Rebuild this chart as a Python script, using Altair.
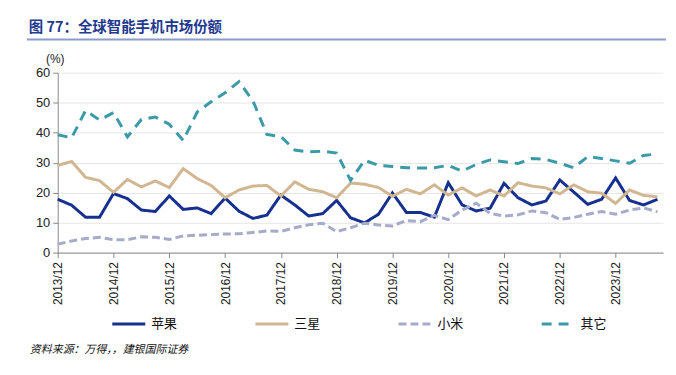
import altair as alt
import pandas as pd

series_names = ["苹果", "三星", "小米", "其它"]
colors = ["#15308E", "#D1B791", "#A7ABCA", "#3A9AA7"]
dashes = [[1, 0], [1, 0], [8, 4], [10, 7]]

# quarterly, 2013/12 .. 2024/09
apple = [17.8, 15.8, 11.8, 11.8, 19.7, 18.0, 14.2, 13.7, 18.9, 14.4, 14.9, 13.0,
         18.2, 13.8, 11.4, 12.5, 19.2, 15.9, 12.2, 13.0, 17.4, 11.6, 9.9, 12.8,
         19.9, 13.4, 13.4, 11.8, 23.3, 15.9, 13.9, 14.8, 23.1, 18.3, 15.9, 17.2,
         24.2, 20.2, 16.1, 17.8, 24.9, 17.4, 15.9, 17.8]
samsung = [29.1, 30.4, 25.1, 24.0, 20.1, 24.4, 21.9, 23.9, 21.7, 28.0, 24.7, 22.4,
           18.3, 20.9, 22.2, 22.4, 18.9, 23.6, 21.1, 20.3, 18.3, 23.2, 22.8, 21.7,
           18.8, 21.1, 19.6, 22.6, 19.2, 21.6, 18.9, 20.9, 18.9, 23.3, 22.2, 21.6,
           19.6, 22.6, 20.3, 19.8, 16.4, 20.9, 19.1, 18.6]
xiaomi = [2.8, 3.9, 4.7, 5.1, 4.3, 4.3, 5.3, 5.1, 4.4, 5.6, 5.8, 6.0,
          6.2, 6.3, 6.7, 7.2, 7.1, 8.3, 9.3, 9.8, 7.0, 8.3, 9.8, 9.2,
          8.9, 10.7, 10.3, 12.4, 11.0, 14.2, 16.5, 13.1, 12.2, 12.6, 13.9, 13.3,
          11.1, 11.7, 12.8, 13.7, 12.8, 14.2, 14.9, 13.6]
others = [39.3, 38.3, 47.4, 44.2, 46.7, 38.6, 44.4, 45.2, 42.8, 37.4, 46.9, 50.3,
          53.3, 57.0, 50.6, 39.4, 38.7, 34.2, 33.6, 33.8, 33.2, 24.1, 30.8, 29.1,
          28.7, 28.3, 28.2, 28.3, 29.1, 27.2, 29.4, 30.9, 30.3, 29.7, 31.4, 31.1,
          29.8, 28.3, 32.0, 31.4, 30.6, 29.8, 32.4, 32.9]

tick_idx = [0, 4, 8, 12, 16, 20, 24, 28, 32, 36, 40]
y_ticks = [0, 10, 20, 30, 40, 50, 60]

rows = []
for name, vals in zip(series_names, [apple, samsung, xiaomi, others]):
    for i, v in enumerate(vals):
        rows.append({"idx": i, "value": v, "series": name})
df = pd.DataFrame(rows)

num_font = "Liberation Sans"
cjk = "Noto Sans CJK SC"

lines = alt.Chart(df).mark_line(strokeWidth=3, strokeCap="butt").encode(
    x=alt.X("idx:Q", scale=alt.Scale(domain=[0, 43.4], nice=False, zero=False),
            axis=alt.Axis(values=tick_idx, labelExpr="toString(2013 + datum.value/4) + '/12'",
                          labelAngle=-90, labelAlign="right", labelBaseline="middle",
                          labelPadding=4, tickSize=5, grid=False, title=None,
                          labelFont=num_font, labelFontSize=12, labelColor="#222",
                          domainColor="#888", tickColor="#888")),
    y=alt.Y("value:Q", scale=alt.Scale(domain=[0, 60], nice=False),
            axis=alt.Axis(values=y_ticks, tickSize=5, labelPadding=3, grid=True,
                          gridColor="#E6E6E6", domainColor="#888", tickColor="#888",
                          labelFont=num_font, labelFontSize=13, labelColor="#222",
                          title="(%)", titleAngle=0, titleX=-3, titleY=-14,
                          titleAlign="center", titleBaseline="middle",
                          titleFont=num_font, titleFontSize=12, titleFontWeight="normal",
                          titleColor="#222")),
    color=alt.Color("series:N", scale=alt.Scale(domain=series_names, range=colors),
                    legend=alt.Legend(title=None, orient="none", legendX=53, legendY=234,
                                      direction="horizontal", columns=4, columnPadding=71,
                                      symbolType="stroke", symbolSize=1100, symbolStrokeWidth=3,
                                      labelFont=cjk, labelFontSize=13, labelColor="#111",
                                      labelOffset=4)),
    strokeDash=alt.StrokeDash("series:N", scale=alt.Scale(domain=series_names, range=dashes),
                              legend=None),
    detail="series:N",
)

one = pd.DataFrame({"a": [0]})
title = alt.Chart(one).mark_text(text="图 77：全球智能手机市场份额", align="left", baseline="middle",
                                 font=cjk, fontSize=14.5, fontWeight="bold", color="#1F3A8F").encode(
    x=alt.value(-29), y=alt.value(-45))
title_rule = alt.Chart(one).mark_rule(color="#8C9BCB", strokeWidth=2).encode(
    x=alt.value(-31), x2=alt.value(612), y=alt.value(-33.5))
footer = alt.Chart(one).mark_text(text="资料来源：万得，，建银国际证券", align="left", baseline="middle",
                                  font=cjk, fontSize=11, fontStyle="italic", color="#111").encode(
    x=alt.value(-28), y=alt.value(279))

chart = alt.layer(lines, title, title_rule, footer).properties(
    width=609, height=181,
    autosize=alt.AutoSizeParams(type="none"),
    padding={"left": 50, "top": 64, "right": 5, "bottom": 115},
).configure_view(stroke=None)

chart.save("out.html", embed_options={"renderer": "svg", "actions": False})
